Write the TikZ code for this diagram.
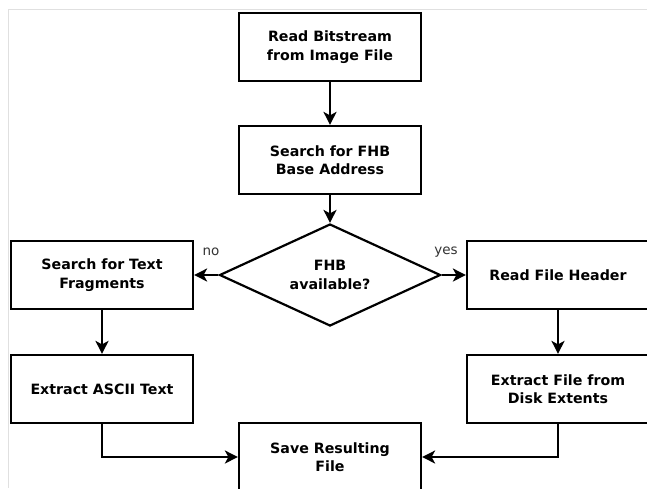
\documentclass[tikz,border=0pt]{standalone}
\usepackage{fontspec}
\setmainfont{DejaVu Sans}
\usetikzlibrary{arrows.meta,shapes.geometric}

\tikzset{
  stepbox/.style={draw, line width=2.2pt, rectangle, minimum width=182pt,
    minimum height=68pt, inner sep=2pt, align=center,
    font=\fontsize{14.2}{18.5}\selectfont\bfseries},
  decision/.style={draw, line width=2.2pt, diamond, aspect=2.17, inner sep=0pt,
    minimum width=221pt, minimum height=102pt, align=center,
    font=\fontsize{14.2}{18.5}\selectfont\bfseries},
  flow/.style={line width=2.2pt, -{Stealth[length=13pt,width=13pt,inset=3.5pt]}},
  branch/.style={font=\fontsize{13.5}{15}\selectfont, text=black!80, inner sep=0pt}
}

\begin{document}
\begin{tikzpicture}[x=1pt,y=-1pt]
  \useasboundingbox (0,0) rectangle (647,488);
  \clip (0,0) rectangle (647,488);

  % light frame along the top and left edges
  \draw[black!12, line width=1pt] (647,9.5) -- (8,9.5) -- (8,488);

  % main column
  \node[stepbox] (read)   at (330,47)  {Read Bitstream\\from Image File};
  \node[stepbox] (search) at (330,160) {Search for FHB\\Base Address};
  \node[decision] (fhb)   at (330,275) {FHB\\available?};

  % "no" branch
  \node[stepbox] (text)  at (102,275) {Search for Text\\Fragments};
  \node[stepbox] (ascii) at (102,389) {Extract ASCII Text};

  % "yes" branch
  \node[stepbox] (header)  at (558,275) {Read File Header};
  \node[stepbox] (extents) at (558,389) {Extract File from\\Disk Extents};

  % result
  \node[stepbox] (save) at (330,457) {Save Resulting\\File};

  % branch labels
  \node[branch] (nolbl)  at (211,252) {no};
  \node[branch] (yeslbl) at (446,252) {yes};

  % connectors
  \draw[flow] (read) -- (search);
  \draw[flow] (search) -- (fhb.north);
  \draw[flow] (fhb.west) -- (text);
  \draw[flow] (fhb.east) -- (header);
  \draw[flow] (text) -- (ascii);
  \draw[flow] (header) -- (extents);
  \draw[flow] (ascii.south) |- (save.west);
  \draw[flow] (extents.south) |- (save.east);
\end{tikzpicture}
\end{document}
